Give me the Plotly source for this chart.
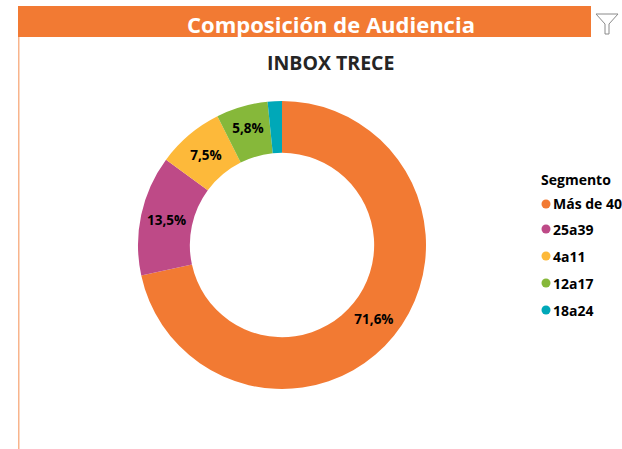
import plotly.graph_objects as go

segments = ["Más de 40", "25a39", "4a11", "12a17", "18a24"]
values = [71.6, 13.5, 7.5, 5.8, 1.6]
colors = ["#F27A33", "#BE4A87", "#FDB93A", "#86B83A", "#00A8B8"]
value_labels = ["<b>%{value:.1f}%</b>", "<b>%{value:.1f}%</b>", "<b>%{value:.1f}%</b>", "<b>%{value:.1f}%</b>", ""]
header_title = "Composición de Audiencia"
chart_title = "INBOX TRECE"
legend_title = "Segmento"

W, H = 622, 449
X = lambda px: px / W
Y = lambda py: 1 - py / H

fig = go.Figure(go.Pie(
    labels=segments, values=values, sort=False, direction="clockwise", rotation=0,
    hole=0.64, marker=dict(colors=colors, line=dict(width=0)),
    texttemplate=value_labels, textposition="inside", insidetextorientation="horizontal",
    textfont=dict(family="Open Sans", size=13.5, color="#000000"),
    domain=dict(x=[X(138), X(426)], y=[Y(389), Y(101)]),
    showlegend=False, hoverinfo="label+percent",
))

shapes = [
    dict(type="rect", xref="paper", yref="paper", x0=X(18), x1=X(622), y0=Y(37), y1=Y(6),
         fillcolor="#F27A33", line=dict(width=0), layer="below"),
    dict(type="rect", xref="paper", yref="paper", x0=X(18), x1=X(19.5), y0=Y(449), y1=Y(37),
         fillcolor="#F8B48C", line=dict(width=0), layer="below"),
    dict(type="rect", xref="paper", yref="paper", x0=X(591), x1=X(622), y0=Y(37), y1=Y(6),
         fillcolor="#FFFFFF", line=dict(width=0), layer="below"),
    dict(type="path", xref="paper", yref="paper",
         path=f"M {X(596)} {Y(14)} L {X(618)} {Y(14)} L {X(609)} {Y(24)} L {X(609)} {Y(34)} "
              f"L {X(605)} {Y(34)} L {X(605)} {Y(24)} Z",
         fillcolor="#FFFFFF", line=dict(color="#8A8A8A", width=1)),
]

annotations = [
    dict(text=f"<b>{header_title}</b>", x=X(331), y=Y(24), font=dict(family="Open Sans", size=22, color="#FFFFFF")),
    dict(text=f"<b>{chart_title}</b>", x=X(330), y=Y(63), font=dict(family="Open Sans", size=19.5, color="#252525")),
    dict(text=f"<b>{legend_title}</b>", x=X(539), y=Y(179), xanchor="left",
         font=dict(family="Open Sans", size=14, color="#000000")),
]

legend_y = [204, 229, 256, 283, 310]
for name, color, py in zip(segments, colors, legend_y):
    shapes.append(dict(type="circle", xref="paper", yref="paper",
                       x0=X(541.5), x1=X(550.5), y0=Y(py + 4.5), y1=Y(py - 4.5),
                       fillcolor=color, line=dict(width=0)))
    annotations.append(dict(text=f"<b>{name}</b>", x=X(551), y=Y(py), xanchor="left",
                            font=dict(family="Open Sans", size=14, color="#000000")))

for a in annotations:
    a.update(xref="paper", yref="paper", showarrow=False, yanchor="middle")
    a.setdefault("xanchor", "center")

fig.update_layout(
    width=W, height=H, margin=dict(l=0, r=0, t=0, b=0),
    paper_bgcolor="#FFFFFF", plot_bgcolor="#FFFFFF",
    separators=",.", shapes=shapes, annotations=annotations,
)
fig.write_html("out.html", config=dict(displayModeBar=False),
               post_script="document.body.style.margin='0';document.documentElement.style.overflow='hidden';")
